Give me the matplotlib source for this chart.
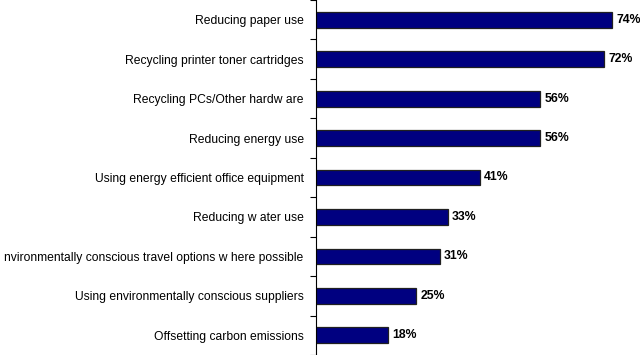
import numpy as np
import matplotlib
matplotlib.use("Agg")
import matplotlib.pyplot as plt

plt.rcParams["font.family"] = ["Liberation Sans", "DejaVu Sans"]

categories = [
    "Reducing paper use",
    "Recycling printer toner cartridges",
    "Recycling PCs/Other hardw are",
    "Reducing energy use",
    "Using energy efficient office equipment",
    "Reducing w ater use",
    "nvironmentally conscious travel options w here possible",
    "Using environmentally conscious suppliers",
    "Offsetting carbon emissions",
]
values = [74, 72, 56, 56, 41, 33, 31, 25, 18]

fig = plt.figure(figsize=(6.4, 3.55), dpi=100)
ax = fig.add_axes([0.494, 0.0, 0.5, 1.0])

y = np.arange(len(categories))
ax.barh(y, values, height=0.4, color="#000080", edgecolor="#202020", linewidth=0.9)

for yi, v in zip(y, values):
    ax.text(v + 1.0, yi, f"{v}%", va="center", ha="left",
            fontsize=8.8, fontweight="bold", color="black")

ax.set_xlim(0, 80)
ax.set_ylim(len(categories) - 0.5, -0.5)

# category labels on major ticks, boundary marks on minor ticks
ax.set_yticks(y)
ax.set_yticklabels(categories, fontsize=8.7)
ax.tick_params(axis="y", which="major", length=0, pad=9)
ax.set_yticks(np.arange(len(categories) + 1) - 0.5, minor=True)
ax.tick_params(axis="y", which="minor", length=4, width=0.8, direction="out")

ax.set_xticks([])
for side in ("top", "right", "bottom"):
    ax.spines[side].set_visible(False)
ax.spines["left"].set_linewidth(0.8)

fig.savefig("out.png", dpi=100)
